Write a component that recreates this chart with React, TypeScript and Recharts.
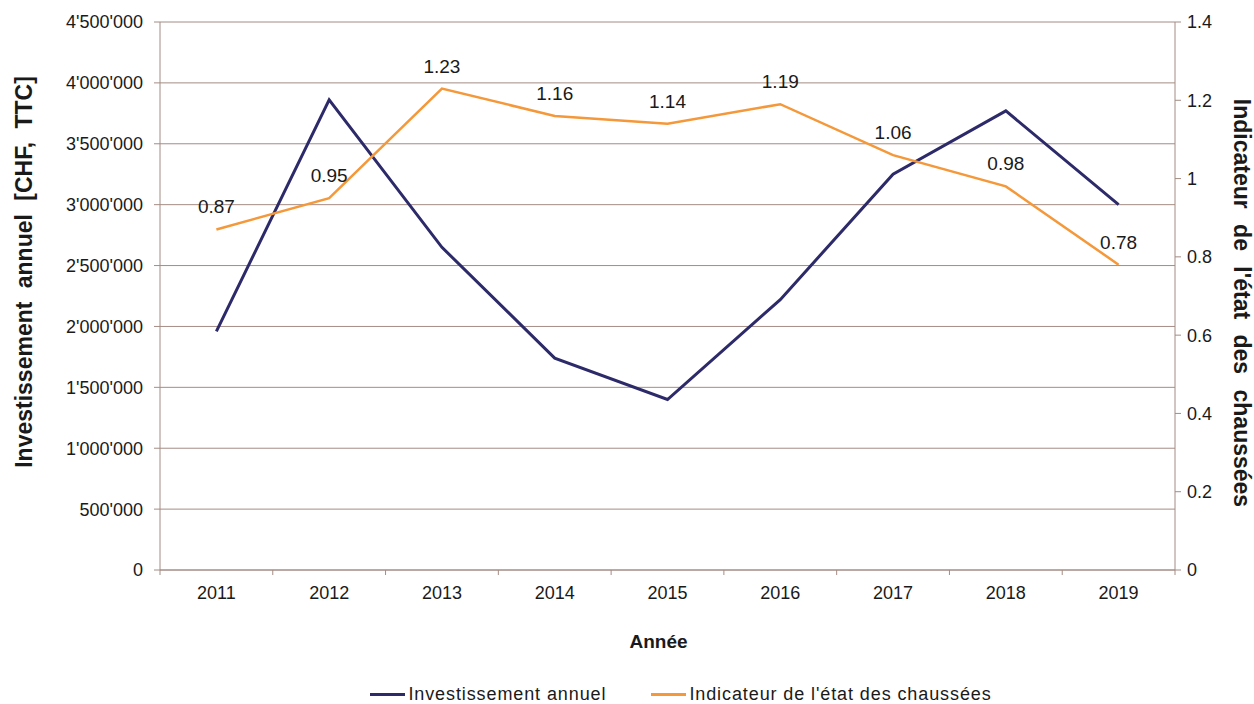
import React from 'react';
import { ComposedChart, Line, XAxis, YAxis, CartesianGrid, Legend, LabelList } from 'recharts';

const years = ['2011', '2012', '2013', '2014', '2015', '2016', '2017', '2018', '2019'];
const investissement = [1960000, 3860000, 2650000, 1740000, 1400000, 2220000, 3250000, 3770000, 3000000];
const indicateur = [0.87, 0.95, 1.23, 1.16, 1.14, 1.19, 1.06, 0.98, 0.78];
const leftTicks = [0, 500000, 1000000, 1500000, 2000000, 2500000, 3000000, 3500000, 4000000, 4500000];
const rightTicks = [0, 0.2, 0.4, 0.6, 0.8, 1, 1.2, 1.4];

const data = years.map((y, i) => ({ year: y, inv: investissement[i], ind: indicateur[i] }));

const FONT = '"Liberation Sans", Arial, sans-serif';
const GRID = '#a48c84';
const BLUE = '#2d2a6a';
const ORANGE = '#f4983a';
const TEXT = '#1a1a1a';

const fmtLeft = (v: number) => String(v).replace(/\B(?=(\d{3})+(?!\d))/g, "'");
const fmtRight = (v: number) => String(+v.toFixed(1));

const XTick = (props: any) => {
  const { x, y, payload, index, visibleTicksCount } = props;
  const half = payload && payload.offset ? payload.offset : 0;
  const last = index === (visibleTicksCount ?? years.length) - 1;
  return (
    <g>
      <line x1={x - half} x2={x - half} y1={y - 8} y2={y - 3} stroke={GRID} />
      {last && <line x1={x + half} x2={x + half} y1={y - 8} y2={y - 3} stroke={GRID} />}
      <text x={x} y={y + 21} textAnchor="middle" fontSize={18} fill={TEXT} fontFamily={FONT}>
        {payload.value}
      </text>
    </g>
  );
};

const LegendContent = () => (
  <div style={{ height: 24, boxSizing: 'border-box', paddingTop: 4, display: 'flex', justifyContent: 'center', alignItems: 'center', fontFamily: FONT, fontSize: 18, letterSpacing: 0.9, color: TEXT, paddingLeft: 108 }}>
    <span style={{ display: 'inline-block', width: 35, height: 3, background: BLUE, marginRight: 3 }} />
    <span style={{ marginRight: 45 }}>Investissement annuel</span>
    <span style={{ display: 'inline-block', width: 35, height: 3, background: ORANGE, marginRight: 3 }} />
    <span>Indicateur de l'état des chaussées</span>
  </div>
);

export default function App() {
  return (
    <div style={{ position: 'absolute', left: 0, top: 0, width: 1254, height: 704, background: '#fff', overflow: 'hidden' }}>
      <ComposedChart width={1254} height={704} data={data} margin={{ top: 22, right: 0, bottom: 0, left: 0 }}>
        <CartesianGrid vertical={false} yAxisId="left" stroke={GRID} strokeWidth={1} />
        <XAxis
          dataKey="year"
          scale="band"
          height={110}
          stroke={GRID}
          tickLine={false}
          tick={<XTick />}
          interval={0}
          label={(p: any) => {
            const vb = p.viewBox;
            return (
              <text x={vb.x + vb.width / 2 - 9} y={vb.y + 78} textAnchor="middle" fontSize={19} fontWeight="bold" fill={TEXT} fontFamily={FONT}>
                Année
              </text>
            );
          }}
        />
        <YAxis
          yAxisId="left"
          width={160}
          domain={[0, 4500000]}
          ticks={leftTicks}
          interval={0}
          tickFormatter={fmtLeft}
          stroke={GRID}
          tickLine={{ stroke: GRID }}
          tickSize={6}
          tickMargin={11}
          tick={{ fontSize: 18, fill: TEXT, fontFamily: FONT }}
          label={(p: any) => {
            const vb = p.viewBox;
            const cx = 24;
            const cy = vb.y + vb.height / 2 - 24;
            return (
              <text x={cx} y={cy} transform={`rotate(-90 ${cx} ${cy})`} textAnchor="middle" dominantBaseline="central" fontSize={23} fontWeight="bold" fill={TEXT} fontFamily={FONT} wordSpacing={7}>
                Investissement annuel [CHF, TTC]
              </text>
            );
          }}
        />
        <YAxis
          yAxisId="right"
          orientation="right"
          width={79}
          domain={[0, 1.4]}
          ticks={rightTicks}
          interval={0}
          tickFormatter={fmtRight}
          stroke={GRID}
          tickLine={{ stroke: GRID }}
          tickSize={6}
          tickMargin={6}
          tick={{ fontSize: 18, fill: TEXT, fontFamily: FONT }}
          label={(p: any) => {
            const vb = p.viewBox;
            const cx = 1242;
            const cy = vb.y + vb.height / 2 + 7;
            return (
              <text x={cx} y={cy} transform={`rotate(90 ${cx} ${cy})`} textAnchor="middle" dominantBaseline="central" fontSize={23} fontWeight="bold" fill={TEXT} fontFamily={FONT} wordSpacing={9}>
                Indicateur de l'état des chaussées
              </text>
            );
          }}
        />
        <Line yAxisId="left" type="linear" dataKey="inv" stroke={BLUE} strokeWidth={3} dot={false} isAnimationActive={false} />
        <Line yAxisId="right" type="linear" dataKey="ind" stroke={ORANGE} strokeWidth={2.5} dot={false} isAnimationActive={false}>
          <LabelList dataKey="ind" position="top" offset={16} fontSize={19} fill={TEXT} fontFamily={FONT} />
        </Line>
        <Legend verticalAlign="bottom" content={<LegendContent />} />
      </ComposedChart>
    </div>
  );
}
